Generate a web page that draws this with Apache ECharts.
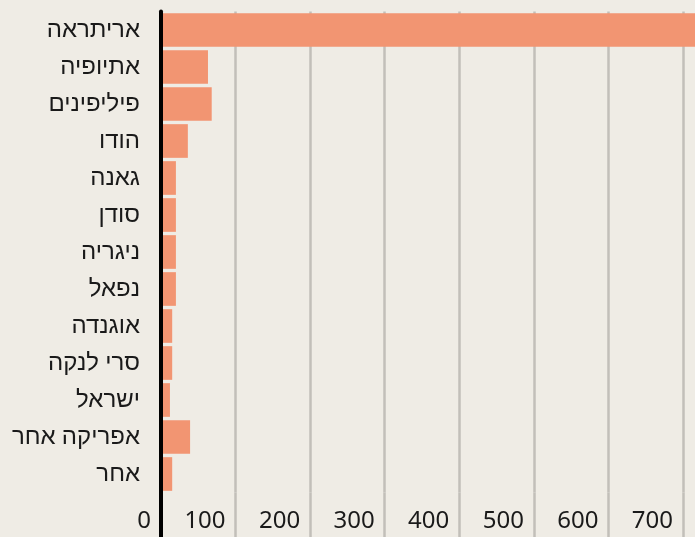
<!DOCTYPE html>
<html>
<head>
<meta charset="utf-8">
<script src="https://cdn.jsdelivr.net/npm/echarts@6/dist/echarts.min.js"></script>
<style>
  html, body { margin: 0; padding: 0; background: #efece5; }
  #chart { width: 695px; height: 537px; }
</style>
</head>
<body>
<div id="chart"></div>
<script>
// מדינות מוצא
const countries = ['אריתראה', 'אתיופיה', 'פיליפינים', 'הודו', 'גאנה', 'סודן', 'ניגריה', 'נפאל', 'אוגנדה', 'סרי לנקה', 'ישראל', 'אפריקה אחר', 'אחר'];
const counts = [780, 63, 68, 36, 20, 20, 20, 20, 15, 15, 12, 39, 15];
const xTicks = [0, 100, 200, 300, 400, 500, 600, 700, 800];

const fontFamily = '"Noto Sans", sans-serif';
const chart = echarts.init(document.getElementById('chart'));

const option = {
  backgroundColor: '#efece5',
  animation: false,
  grid: {
    left: 161,
    right: -62.6,
    top: 11.5,
    bottom: 44.5,
    outerBoundsMode: 'none'
  },
  xAxis: [
    {
      type: 'value',
      min: xTicks[0],
      max: xTicks[xTicks.length - 1],
      interval: 100,
      position: 'bottom',
      axisLine: { show: false },
      axisTick: {
        show: true,
        length: 46,
        lineStyle: { color: '#c2bfb9', width: 2.5 }
      },
      axisLabel: {
        align: 'right',
        padding: [0, 10, 0, 0],
        margin: 17,
        fontSize: 24,
        fontFamily: fontFamily,
        color: '#1a1a1a'
      },
      splitLine: {
        show: true,
        lineStyle: { color: '#c2bfb9', width: 2.5 }
      }
    },
    {
      // 0 קו שחור שממשיך מתחת לציר
      type: 'value',
      min: 0,
      max: 800,
      interval: 800,
      position: 'bottom',
      z: 10,
      axisLine: { show: false },
      axisTick: { show: true, length: 46, lineStyle: { color: '#000', width: 4 } },
      axisLabel: { show: false },
      splitLine: { show: false }
    }
  ],
  yAxis: {
    type: 'category',
    data: countries,
    inverse: true,
    z: 10,
    axisLine: { show: true, lineStyle: { color: '#000', width: 4 } },
    axisTick: { show: false },
    axisLabel: {
      margin: 21,
      fontSize: 24,
      fontFamily: fontFamily,
      color: '#1a1a1a'
    }
  },
  series: [
    {
      type: 'bar',
      data: counts,
      barCategoryGap: '9%',
      itemStyle: { color: '#f29572' },
      silent: true
    }
  ]
};

chart.setOption(option);
</script>
</body>
</html>
